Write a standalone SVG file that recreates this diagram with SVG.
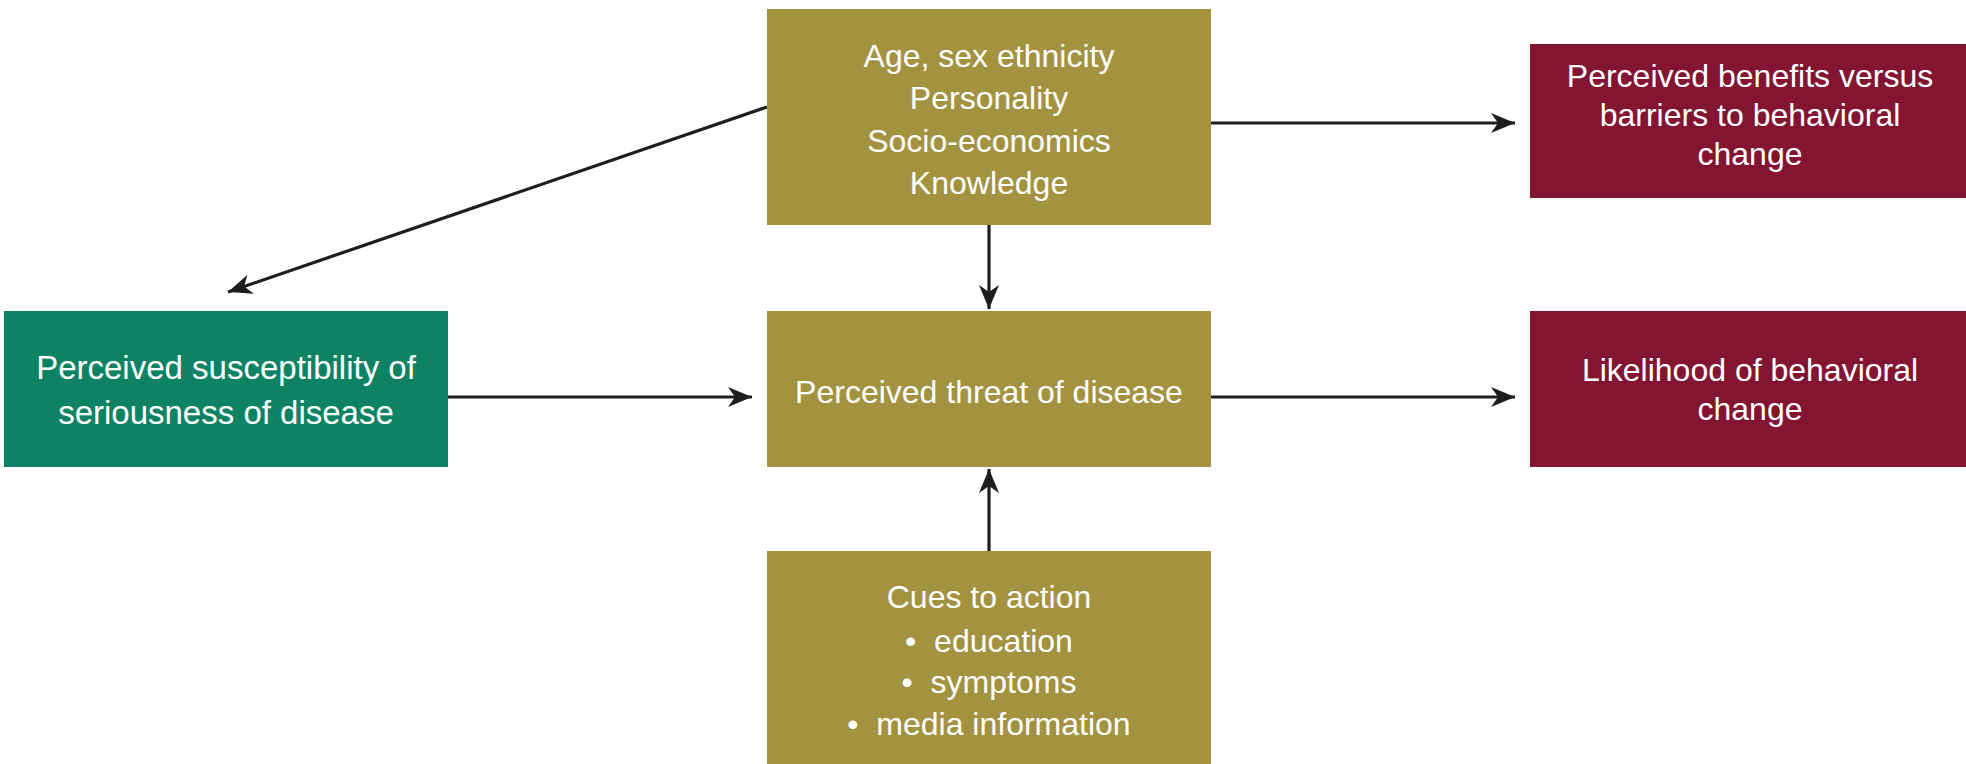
<svg xmlns="http://www.w3.org/2000/svg" width="1966" height="764" viewBox="0 0 1966 764">
  <style>
    .olive { fill: #A39340; }
    .green { fill: #0E8363; }
    .maroon { fill: #831533; }
    .label { font-family: "Liberation Sans", Arial, sans-serif; font-size: 32px; fill: #FFFFFF; text-anchor: middle; }
    .wide { font-size: 33px; }
    .edge { stroke: #1E1E1E; stroke-width: 3.2; fill: none; marker-end: url(#arrow); }
  </style>
  <defs>
    <!-- barbed arrowhead, tip at the end of each connector -->
    <marker id="arrow" markerUnits="userSpaceOnUse" markerWidth="26" markerHeight="22" refX="24" refY="10" orient="auto">
      <path d="M0,0 L24,10 L0,20 L7,10 Z" fill="#1E1E1E"/>
    </marker>
  </defs>
  <rect width="1966" height="764" fill="#FFFFFF"/>

  <g id="connectors">
    <line class="edge" x1="767" y1="107" x2="228" y2="292"/>
    <line class="edge" x1="1211" y1="123" x2="1515" y2="123"/>
    <line class="edge" x1="989" y1="225" x2="989" y2="309"/>
    <line class="edge" x1="448" y1="397" x2="752" y2="397"/>
    <line class="edge" x1="1211" y1="397" x2="1515" y2="397"/>
    <line class="edge" x1="989" y1="551" x2="989" y2="469"/>
  </g>

  <g id="demographics">
    <rect class="olive" x="767" y="9" width="444" height="216"/>
    <text class="label" x="989" y="67">Age, sex ethnicity</text>
    <text class="label" x="989" y="109">Personality</text>
    <text class="label" x="989" y="152">Socio-economics</text>
    <text class="label" x="989" y="194">Knowledge</text>
  </g>

  <g id="benefits-barriers">
    <rect class="maroon" x="1530" y="44" width="436" height="154"/>
    <text class="label" x="1750" y="87">Perceived benefits versus</text>
    <text class="label" x="1750" y="126">barriers to behavioral</text>
    <text class="label" x="1750" y="165">change</text>
  </g>

  <g id="susceptibility">
    <rect class="green" x="4" y="311" width="444" height="156"/>
    <text class="label wide" x="226" y="379">Perceived susceptibility of</text>
    <text class="label wide" x="226" y="424">seriousness of disease</text>
  </g>

  <g id="threat">
    <rect class="olive" x="767" y="311" width="444" height="156"/>
    <text class="label" x="989" y="403">Perceived threat of disease</text>
  </g>

  <g id="likelihood">
    <rect class="maroon" x="1530" y="311" width="436" height="156"/>
    <text class="label" x="1750" y="381">Likelihood of behavioral</text>
    <text class="label" x="1750" y="420">change</text>
  </g>

  <g id="cues">
    <rect class="olive" x="767" y="551" width="444" height="213"/>
    <text class="label" x="989" y="608">Cues to action</text>
    <text class="label" x="989" y="652">•&#160; education</text>
    <text class="label" x="989" y="693">•&#160; symptoms</text>
    <text class="label" x="989" y="735">•&#160; media information</text>
  </g>
</svg>
